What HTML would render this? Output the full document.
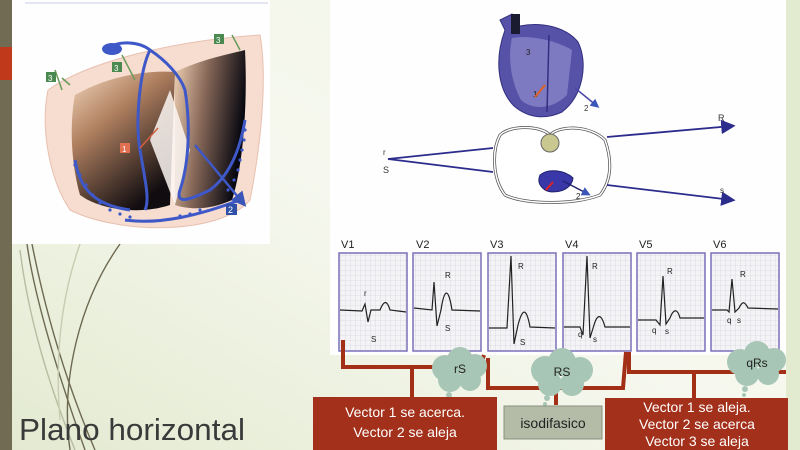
<!DOCTYPE html>
<html><head><meta charset="utf-8"><style>
html,body{margin:0;padding:0;width:800px;height:450px;overflow:hidden;font-family:"Liberation Sans",sans-serif}
</style></head><body>
<svg width="800" height="450" viewBox="0 0 800 450" xmlns="http://www.w3.org/2000/svg" font-family="Liberation Sans, sans-serif">
<defs>
<linearGradient id="bg" x1="0" y1="1" x2="1" y2="0">
<stop offset="0" stop-color="#e3ead0"/><stop offset="0.5" stop-color="#f6f8ef"/><stop offset="1" stop-color="#f2f5e6"/>
</linearGradient>
<linearGradient id="dl" x1="0" y1="0" x2="0.6" y2="1">
<stop offset="0" stop-color="#f3d7bd"/><stop offset="0.4" stop-color="#b08060"/><stop offset="1" stop-color="#100c10"/>
</linearGradient>
<linearGradient id="dr" x1="0" y1="0" x2="1" y2="0.3">
<stop offset="0" stop-color="#f0d2b4"/><stop offset="0.45" stop-color="#8a6a5a"/><stop offset="1" stop-color="#080810"/>
</linearGradient>
<pattern id="grid" width="5" height="5" patternUnits="userSpaceOnUse">
<path d="M5,0 L0,0 0,5" fill="none" stroke="#c8c8d4" stroke-width="0.6"/>
</pattern>
<marker id="ab" markerWidth="8" markerHeight="8" refX="6" refY="4" orient="auto"><path d="M0,0 L8,4 L0,8z" fill="#2c2c8c"/></marker>
<marker id="ab2" markerWidth="6" markerHeight="6" refX="4" refY="3" orient="auto"><path d="M0,0 L6,3 L0,6z" fill="#3b55b8"/></marker>
</defs>
<rect width="800" height="450" fill="url(#bg)"/>
<rect x="786" y="0" width="14" height="450" fill="#e2ebcf"/>
<rect x="0" y="0" width="12" height="450" fill="#706b52"/>
<rect x="0" y="47" width="12" height="33" fill="#c0391b"/>
<g fill="none" stroke="#6e6a52" stroke-width="1.4">
<path d="M27,244 C35,300 60,380 85,450"/>
<path d="M32,244 C45,310 65,380 95,450"/>
<path d="M120,244 C80,300 60,380 70,450"/>
<path d="M20,250 C30,330 55,400 75,450" stroke="#b8bca0"/>
<path d="M80,244 C60,300 55,360 60,420" stroke="#c8ccb0"/>
</g>
<rect x="12" y="0" width="258" height="244" fill="#fefefe"/>
<line x1="25" y1="3" x2="268" y2="3" stroke="#c8cce4" stroke-width="1"/>
<path d="M48,90 C90,60 180,40 260,35 C268,80 260,150 250,200 C220,235 120,235 70,210 C50,180 40,130 48,90z" fill="#f6ddd0" stroke="#e8c0b0"/>
<path d="M75,95 C110,75 150,70 175,72 L170,205 C140,215 100,210 80,195 C70,160 70,120 75,95z" fill="url(#dl)"/>
<path d="M175,72 C200,60 225,55 245,50 C248,110 242,170 232,200 C210,210 190,210 175,205z" fill="url(#dr)"/>
<path d="M150,140 L175,205 L190,150 L170,90z" fill="#fbf6f2" opacity="0.85"/>
<g fill="none" stroke="#3e58c8" stroke-width="3">
<path d="M108,48 C120,40 140,42 150,50 C165,60 180,75 185,90 C190,120 190,160 180,190 C175,205 190,200 210,190 C230,175 240,150 245,120"/>
<path d="M150,50 C140,70 135,120 140,150 C145,180 150,200 145,210"/>
<path d="M75,160 C80,190 95,205 130,210"/>
<path d="M125,220 C160,225 200,215 240,200"/>
</g>
<ellipse cx="112" cy="49" rx="10" ry="6" fill="#3e58c8"/>
<line x1="195" y1="145" x2="243" y2="203" stroke="#3e58c8" stroke-width="2.5" marker-end="url(#ab2)"/>
<g fill="#3e58c8">
<circle cx="75" cy="165" r="1.6"/><circle cx="80" cy="175" r="1.6"/><circle cx="86" cy="185" r="1.6"/><circle cx="93" cy="195" r="1.6"/><circle cx="100" cy="203" r="1.6"/><circle cx="110" cy="210" r="1.6"/><circle cx="120" cy="214" r="1.6"/><circle cx="130" cy="217" r="1.6"/>
<circle cx="245" cy="130" r="1.6"/><circle cx="244" cy="140" r="1.6"/><circle cx="242" cy="150" r="1.6"/><circle cx="240" cy="160" r="1.6"/><circle cx="238" cy="170" r="1.6"/><circle cx="234" cy="180" r="1.6"/><circle cx="228" cy="190" r="1.6"/><circle cx="200" cy="210" r="1.6"/><circle cx="190" cy="214" r="1.6"/><circle cx="180" cy="216" r="1.6"/>
</g>
<g stroke="#6a9a5a" stroke-width="1.5" fill="none">
<path d="M62,90 L55,70"/><path d="M70,85 L62,78"/><path d="M135,80 L122,55"/><path d="M240,50 L232,35"/>
</g>
<rect x="46" y="72" width="10" height="10" fill="#4a8a50"/><text x="48" y="81" font-size="8" fill="#fff">3</text>
<rect x="112" y="62" width="10" height="10" fill="#4a8a50"/><text x="114" y="71" font-size="8" fill="#fff">3</text>
<rect x="214" y="34" width="10" height="10" fill="#4a8a50"/><text x="216" y="43" font-size="8" fill="#fff">3</text>
<line x1="140" y1="148" x2="158" y2="128" stroke="#d06040" stroke-width="1.5"/>
<rect x="120" y="143" width="10" height="10" fill="#e07050"/><text x="122" y="152" font-size="8" fill="#fff">1</text>
<rect x="226" y="204" width="11" height="11" fill="#3050a8"/><text x="228" y="213" font-size="9" fill="#fff">2</text>
<rect x="330" y="0" width="456" height="355" fill="#fefefe"/>
<path d="M505,30 L500,20 L512,14 L520,26 C540,22 565,26 578,42 C588,62 584,95 562,112 C545,120 528,118 514,106 C498,90 494,60 505,30z" fill="#5652a8" stroke="#332f80"/>
<path d="M512,38 C530,35 555,40 572,50 L567,95 C552,110 532,110 521,100 C510,80 508,55 512,38z" fill="#8884c8" opacity="0.8"/>
<rect x="511" y="14" width="9" height="20" fill="#1a1a30"/>
<line x1="549" y1="35" x2="547" y2="112" stroke="#332f80" stroke-width="1.5"/>
<text x="526" y="55" font-size="8" fill="#222">3</text>
<text x="533" y="97" font-size="8" fill="#222">1</text>
<line x1="535" y1="97" x2="545" y2="85" stroke="#e06020" stroke-width="2"/>
<line x1="575" y1="88" x2="597" y2="106" stroke="#4a48a8" stroke-width="1.5" marker-end="url(#ab2)"/>
<text x="584" y="111" font-size="8" fill="#333">2</text>
<path d="M500,135 C510,125 540,125 550,135 C560,125 590,125 605,140 C612,160 612,180 600,195 C575,205 525,205 505,195 C492,178 492,150 500,135z" fill="#fff" stroke="#555" stroke-width="3"/>
<path d="M500,135 C510,125 540,125 550,135 C560,125 590,125 605,140 C612,160 612,180 600,195 C575,205 525,205 505,195 C492,178 492,150 500,135z" fill="none" stroke="#fff" stroke-width="1.5"/>
<ellipse cx="550" cy="143" rx="9" ry="9" fill="#c8c890" stroke="#666"/>
<path d="M540,175 C548,168 565,170 573,178 C572,190 555,195 545,190 C538,185 538,180 540,175z" fill="#3a38a8" stroke="#222270"/>
<line x1="563" y1="181" x2="588" y2="194" stroke="#222270" stroke-width="1.5" marker-end="url(#ab2)"/>
<text x="576" y="199" font-size="8" fill="#222">2</text>
<line x1="546" y1="190" x2="553" y2="182" stroke="#e02020" stroke-width="2"/>
<g stroke="#2c2c8c" stroke-width="1.8">
<line x1="388" y1="159" x2="493" y2="148"/>
<line x1="388" y1="159" x2="493" y2="172"/>
<line x1="607" y1="137" x2="732" y2="126" marker-end="url(#ab)"/>
<line x1="607" y1="185" x2="732" y2="200" marker-end="url(#ab)"/>
</g>
<text x="383" y="155" font-size="8" fill="#333">r</text>
<text x="383" y="173" font-size="9" fill="#333">S</text>
<text x="718" y="121" font-size="9" fill="#333">R</text>
<text x="720" y="193" font-size="8" fill="#333">s</text>
<g font-size="11" fill="#222">
<text x="341" y="248">V1</text><text x="416" y="248">V2</text><text x="490" y="248">V3</text><text x="565" y="248">V4</text><text x="639" y="248">V5</text><text x="713" y="248">V6</text>
</g>
<g fill="#f4f4f6" stroke="#7a70b8" stroke-width="1.5">
<rect x="339" y="253" width="68" height="98"/><rect x="413" y="253" width="68" height="98"/><rect x="488" y="253" width="68" height="98"/><rect x="563" y="253" width="68" height="98"/><rect x="637" y="253" width="68" height="98"/><rect x="711" y="253" width="68" height="98"/>
</g>
<g fill="url(#grid)">
<rect x="340" y="254" width="66" height="96"/><rect x="414" y="254" width="66" height="96"/><rect x="489" y="254" width="66" height="96"/><rect x="564" y="254" width="66" height="96"/><rect x="638" y="254" width="66" height="96"/><rect x="712" y="254" width="66" height="96"/>
</g>
<g fill="none" stroke="#222" stroke-width="1.2">
<path d="M340,310 L362,311 L365,304 L368,322 L371,310 L380,310 C384,300 387,300 390,310 L406,312"/>
<path d="M414,308 L432,310 L434,282 L437,326 L441,310 C444,290 448,285 452,310 L480,311"/>
<path d="M489,328 L507,328 L511,256 L514,344 L518,325 C522,310 526,305 530,327 L555,328"/>
<path d="M564,327 L580,327 L583,335 L587,256 L590,338 L594,325 C597,315 601,312 605,327 L630,327"/>
<path d="M638,320 L656,320 L660,325 L663,276 L666,324 L670,318 C673,310 677,307 680,318 L704,318"/>
<path d="M712,310 L727,310 L729,312 L732,279 L735,312 L739,308 C742,302 744,300 748,308 L778,309"/>
</g>
<g font-size="8" fill="#222">
<text x="364" y="296">r</text><text x="371" y="342">S</text><text x="445" y="278">R</text><text x="445" y="331">S</text>
<text x="518" y="269">R</text><text x="520" y="345">S</text><text x="592" y="269">R</text><text x="578" y="337">q</text><text x="593" y="342">s</text>
<text x="667" y="274">R</text><text x="652" y="333">q</text><text x="665" y="334">s</text><text x="740" y="277">R</text><text x="727" y="323">q</text><text x="737" y="323">s</text>
</g>
<g fill="none" stroke="#a33016" stroke-width="4">
<path d="M343,340 L343,367 L480,367 L484,355"/>
<path d="M412,367 L412,397"/>
<path d="M488,358 L488,388 L623,388 L626,352"/>
<path d="M556,388 L556,405"/>
<path d="M629,352 L629,372 L786,372"/>
<path d="M694,372 L694,398"/>
</g>
<g fill="#a8c6b6">
<circle cx="445" cy="368" r="13"/><circle cx="460" cy="360" r="13"/><circle cx="475" cy="366" r="12"/><circle cx="450" cy="380" r="12"/><circle cx="470" cy="380" r="11"/><circle cx="449" cy="395" r="3"/><circle cx="447" cy="401" r="2"/>
<circle cx="545" cy="370" r="14"/><circle cx="562" cy="362" r="14"/><circle cx="580" cy="370" r="13"/><circle cx="550" cy="384" r="12"/><circle cx="572" cy="384" r="12"/><circle cx="547" cy="398" r="3"/><circle cx="545" cy="404" r="2"/>
<circle cx="740" cy="362" r="13"/><circle cx="757" cy="354" r="13"/><circle cx="774" cy="360" r="12"/><circle cx="747" cy="374" r="12"/><circle cx="768" cy="374" r="11"/><circle cx="745" cy="389" r="3"/><circle cx="744" cy="395" r="2"/>
</g>
<g font-size="12" fill="#222" text-anchor="middle">
<text x="460" y="373">rS</text><text x="562" y="376">RS</text><text x="757" y="367">qRs</text>
</g>
<rect x="313" y="397" width="184" height="53" fill="#a3301a"/>
<text x="405" y="417" font-size="14" fill="#fff" text-anchor="middle">Vector 1 se acerca.</text>
<text x="405" y="437" font-size="14" fill="#fff" text-anchor="middle">Vector 2 se aleja</text>
<rect x="504" y="406" width="98" height="33" fill="#b4bca8" stroke="#8a9080"/>
<text x="553" y="428" font-size="14" fill="#222" text-anchor="middle">isodifasico</text>
<rect x="605" y="398" width="183" height="52" fill="#a3301a"/>
<text x="697" y="412" font-size="14" fill="#fff" text-anchor="middle">Vector 1 se aleja.</text>
<text x="697" y="429" font-size="14" fill="#fff" text-anchor="middle">Vector 2 se acerca</text>
<text x="697" y="446" font-size="14" fill="#fff" text-anchor="middle">Vector 3 se aleja</text>
<text x="19" y="440" font-size="31" fill="#3a3a3a" textLength="226" lengthAdjust="spacingAndGlyphs">Plano horizontal</text>
</svg>
</body></html>
